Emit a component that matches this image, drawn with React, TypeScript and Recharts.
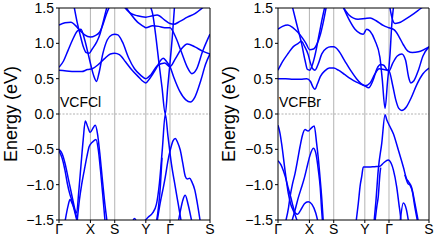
import { LineChart, Line, XAxis, YAxis, ReferenceLine } from 'recharts'

// k-path positions (fraction of path length) and labels
const kTicks = [0, 0.208, 0.369, 0.575, 0.735, 1]
const kLabels = ['Γ', 'X', 'S', 'Y', 'Γ', 'S']
const eTicks = [-1.5, -1.0, -0.5, 0.0, 0.5, 1.0, 1.5]

type Pt = [number, number]

// ---- VCFCl bands [k, E] ----
const clC1: Pt[] = [[0, 0.62], [0.05, 0.61], [0.1, 0.6], [0.15, 0.6], [0.19, 0.63], [0.22, 0.64], [0.26, 0.7], [0.3, 0.78], [0.34, 0.85], [0.369, 0.86], [0.4, 0.84], [0.44, 0.74], [0.48, 0.63], [0.52, 0.54], [0.575, 0.44], [0.6, 0.5], [0.64, 0.63], [0.67, 0.75], [0.69, 0.79], [0.71, 0.75], [0.735, 0.67], [0.76, 0.52], [0.8, 0.32], [0.84, 0.2], [0.87, 0.17], [0.9, 0.24], [0.94, 0.48], [0.97, 0.7], [1, 0.85]]
const clC2: Pt[] = [[0, 0.66], [0.03, 0.75], [0.06, 0.9], [0.09, 1.05], [0.12, 1.17], [0.145, 1.2], [0.17, 1.05], [0.19, 0.88], [0.21, 0.7], [0.23, 0.54], [0.248, 0.46], [0.265, 0.58], [0.29, 0.85], [0.32, 1.05], [0.35, 1.12], [0.369, 1.13], [0.39, 1.12], [0.42, 1.02], [0.46, 0.8], [0.5, 0.64], [0.54, 0.55], [0.575, 0.5], [0.61, 0.56], [0.65, 0.68], [0.7, 0.72], [0.735, 0.67], [0.77, 0.78], [0.81, 0.92], [0.85, 0.99], [0.9, 0.95], [0.95, 0.89], [1, 0.85]]
const clC3: Pt[] = [[0, 1.26], [0.04, 1.29], [0.08, 1.3], [0.11, 1.25], [0.14, 1.18], [0.17, 1.12], [0.208, 1.09], [0.24, 1.11], [0.27, 1.16], [0.29, 1.26], [0.315, 1.42], [0.335, 1.52]]
const clC4: Pt[] = [[0.1, 1.52], [0.12, 1.3], [0.14, 1.12], [0.16, 0.96], [0.18, 0.87], [0.2, 0.86], [0.22, 0.92], [0.25, 1.02], [0.27, 1.12], [0.29, 1.28], [0.318, 1.52]]
const clU1: Pt[] = [[0.43, 1.52], [0.47, 1.43], [0.52, 1.39], [0.575, 1.37], [0.62, 1.39], [0.65, 1.4], [0.7, 1.33], [0.735, 1.28], [0.76, 1.27], [0.8, 1.31], [0.85, 1.37], [0.9, 1.42], [0.96, 1.52]]
const clU2: Pt[] = [[0.44, 1.52], [0.48, 1.4], [0.52, 1.3], [0.56, 1.24], [0.575, 1.22], [0.62, 1.25], [0.66, 1.24], [0.7, 1.22], [0.735, 1.22], [0.77, 1.1], [0.81, 0.88], [0.85, 0.66], [0.88, 0.57], [0.91, 0.63], [0.95, 0.88], [1, 1.13]]
const clV: Pt[] = [[0.605, 1.52], [0.62, 1.42], [0.64, 1.12], [0.66, 0.76], [0.682, 0.38], [0.704, 0.0], [0.72, 0.38], [0.735, 0.72], [0.75, 1.08], [0.765, 1.52]]
const clVb1: Pt[] = [[0.04, -1.52], [0.06, -1.3], [0.073, -1.21], [0.09, -1.28], [0.117, -1.4], [0.13, -1.12], [0.145, -0.74], [0.16, -0.37], [0.174, -0.1], [0.19, -0.18], [0.207, -0.26], [0.225, -0.2], [0.24, -0.16], [0.255, -0.28], [0.27, -0.55], [0.285, -0.88], [0.3, -1.2], [0.318, -1.52]]
const clVb2: Pt[] = [[0.12, -1.52], [0.135, -1.22], [0.15, -1.0], [0.168, -0.79], [0.185, -0.6], [0.2, -0.46], [0.22, -0.4], [0.245, -0.36], [0.26, -0.5], [0.275, -0.8], [0.29, -1.15], [0.305, -1.52]]
const clVb3: Pt[] = [[0, -0.5], [0.02, -0.56], [0.04, -0.7], [0.06, -0.9], [0.08, -1.1], [0.1, -1.3], [0.115, -1.45], [0.125, -1.52]]
const clVb4: Pt[] = [[0, -0.52], [0.02, -0.62], [0.04, -0.8], [0.055, -0.98], [0.07, -1.12], [0.085, -1.22], [0.1, -1.35], [0.12, -1.52]]
const clVb5: Pt[] = [[0.485, -1.53], [0.5, -1.48], [0.515, -1.53]]
const clVb6: Pt[] = [[0.56, -1.53], [0.59, -1.46], [0.62, -1.4], [0.645, -1.28], [0.665, -0.98], [0.685, -0.48], [0.704, 0.0], [0.722, -0.32], [0.744, -0.7], [0.77, -1.03], [0.79, -1.28], [0.81, -1.53]]
const clVb7: Pt[] = [[0.645, -1.53], [0.66, -1.3], [0.672, -1.0], [0.682, -0.62]]
const clVb8: Pt[] = [[0.649, -1.53], [0.67, -1.26], [0.69, -1.05], [0.704, -0.89], [0.72, -0.68], [0.737, -0.51], [0.755, -0.38], [0.77, -0.345], [0.785, -0.4], [0.803, -0.51], [0.82, -0.7], [0.836, -0.88], [0.85, -0.92], [0.865, -0.91], [0.88, -0.96], [0.9, -1.08], [0.915, -1.25], [0.936, -1.53]]
const clVb9: Pt[] = [[0.79, -1.53], [0.805, -1.36], [0.82, -1.22], [0.836, -1.15], [0.855, -1.28], [0.88, -1.53]]

// ---- VCFBr bands [k, E] ----
const brC1: Pt[] = [[0, 0.5], [0.05, 0.5], [0.1, 0.49], [0.15, 0.49], [0.19, 0.5], [0.215, 0.46], [0.232, 0.38], [0.245, 0.35], [0.26, 0.42], [0.28, 0.53], [0.31, 0.61], [0.34, 0.65], [0.369, 0.65], [0.4, 0.62], [0.44, 0.56], [0.48, 0.5], [0.52, 0.45], [0.575, 0.4], [0.6, 0.37], [0.63, 0.48], [0.655, 0.64], [0.68, 0.7], [0.7, 0.69], [0.72, 0.63], [0.735, 0.61], [0.76, 0.72], [0.79, 0.82], [0.82, 0.85], [0.845, 0.76], [0.865, 0.52], [0.88, 0.44], [0.9, 0.47], [0.93, 0.62], [0.96, 0.82], [1, 0.95]]
const brC2: Pt[] = [[0, 0.62], [0.03, 0.74], [0.068, 0.86], [0.1, 0.95], [0.134, 1.0], [0.155, 1.03], [0.175, 0.96], [0.2, 0.84], [0.215, 0.72], [0.23, 0.64], [0.245, 0.62], [0.265, 0.7], [0.29, 0.85], [0.32, 0.93], [0.35, 0.95], [0.369, 0.95], [0.4, 0.9], [0.44, 0.76], [0.48, 0.62], [0.52, 0.5], [0.55, 0.43], [0.575, 0.4], [0.61, 0.44], [0.64, 0.56], [0.67, 0.64], [0.7, 0.63], [0.735, 0.61], [0.76, 0.4], [0.78, 0.2], [0.8, 0.08], [0.82, 0.05], [0.85, 0.1], [0.88, 0.22], [0.92, 0.42], [0.96, 0.57], [1, 0.65]]
const brC3: Pt[] = [[0, 1.2], [0.03, 1.24], [0.065, 1.26], [0.1, 1.22], [0.13, 1.16], [0.16, 1.08], [0.185, 1.0], [0.21, 0.91], [0.235, 0.92], [0.26, 1.0], [0.28, 1.12], [0.3, 1.3], [0.32, 1.52]]
const brC4: Pt[] = [[0.095, 1.52], [0.124, 1.27], [0.157, 0.99], [0.179, 0.76], [0.195, 0.63], [0.21, 0.62], [0.225, 0.68], [0.25, 0.88], [0.27, 1.1], [0.29, 1.32], [0.31, 1.52]]
const brU1: Pt[] = [[0.43, 1.52], [0.47, 1.4], [0.53, 1.34], [0.575, 1.35], [0.61, 1.36], [0.65, 1.32], [0.7, 1.25], [0.735, 1.22], [0.77, 1.19], [0.8, 1.1], [0.83, 0.98], [0.86, 0.89], [0.89, 0.87], [0.93, 0.88], [1, 0.95]]
const brU2: Pt[] = [[0.43, 1.52], [0.47, 1.34], [0.51, 1.2], [0.545, 1.14], [0.565, 1.13], [0.587, 1.2], [0.61, 1.17], [0.642, 1.04], [0.675, 0.8], [0.69, 0.5], [0.709, 0.08], [0.725, 0.45], [0.742, 0.85], [0.753, 1.25], [0.765, 1.52]]
const brU3: Pt[] = [[0.74, 1.52], [0.755, 1.36], [0.775, 1.28], [0.8, 1.29], [0.85, 1.35], [0.9, 1.42], [0.95, 1.5], [0.97, 1.53]]
const brVb1: Pt[] = [[0.05, -1.53], [0.07, -1.32], [0.08, -1.17], [0.095, -1.0], [0.113, -0.84], [0.13, -0.65], [0.146, -0.46], [0.162, -0.3], [0.179, -0.22], [0.2, -0.24], [0.22, -0.2], [0.24, -0.17], [0.256, -0.42], [0.268, -0.65], [0.278, -0.89], [0.29, -1.2], [0.3, -1.53]]
const brVb2: Pt[] = [[0.09, -1.53], [0.113, -1.36], [0.135, -1.18], [0.157, -1.03], [0.175, -0.9], [0.19, -0.77], [0.21, -0.6], [0.234, -0.485], [0.25, -0.55], [0.267, -0.79], [0.28, -1.05], [0.289, -1.36], [0.295, -1.53]]
const brVb3: Pt[] = [[0, -0.16], [0.012, -0.26], [0.024, -0.42], [0.046, -0.79], [0.068, -1.12], [0.085, -1.28], [0.1, -1.36], [0.115, -1.44], [0.13, -1.53]]
const brVb4: Pt[] = [[0, -0.66], [0.02, -0.72], [0.035, -0.8], [0.05, -0.9], [0.068, -1.05], [0.085, -1.18], [0.1, -1.31], [0.115, -1.4], [0.13, -1.42], [0.15, -1.36], [0.175, -1.27], [0.2, -1.24], [0.225, -1.28], [0.25, -1.4], [0.265, -1.53]]
const brVb5: Pt[] = [[0.636, -1.53], [0.649, -1.22], [0.664, -0.79], [0.687, -0.415], [0.709, -0.01], [0.72, -0.08], [0.737, -0.16], [0.764, -0.28], [0.797, -0.51], [0.83, -0.75], [0.852, -0.92], [0.865, -0.96], [0.885, -1.04], [0.907, -1.27], [0.93, -1.53]]
const brVb6: Pt[] = [[0.84, -0.86], [0.86, -0.98], [0.875, -1.01], [0.89, -1.1], [0.905, -1.3], [0.925, -1.53]]
const brVb7: Pt[] = [[0.517, -1.53], [0.532, -1.26], [0.545, -1.0], [0.554, -0.89], [0.565, -0.75], [0.6, -0.75], [0.64, -0.745], [0.675, -0.74], [0.7, -0.69], [0.73, -0.65], [0.75, -0.7], [0.764, -0.79], [0.786, -1.03], [0.803, -1.31], [0.81, -1.42], [0.815, -1.53]]
const brVb8: Pt[] = [[0.642, -1.53], [0.655, -1.3], [0.664, -1.17], [0.675, -0.85], [0.68, -0.76]]
const brVb9: Pt[] = [[0.81, -1.5], [0.83, -1.26], [0.85, -1.35], [0.865, -1.53]]

const clBands = [clC1, clC2, clC3, clC4, clU1, clU2, clV, clVb1, clVb2, clVb3, clVb4, clVb5, clVb6, clVb7, clVb8, clVb9]
const brBands = [brC1, brC2, brC3, brC4, brU1, brU2, brU3, brVb1, brVb2, brVb3, brVb4, brVb5, brVb6, brVb7, brVb8, brVb9]

const FONT = 'Liberation Sans, Arial, sans-serif'
const BLUE = '#0000ff'

function fmtE(v: number) {
  return v.toFixed(1).replace('-', '\u2212')
}

function Panel({ bands, name, axisWidth, right }: { bands: Pt[][]; name: string; axisWidth: number; right: number }) {
  return (
    <div style={{ position: 'relative', width: 218, height: 241 }}>
      <LineChart width={218} height={241} margin={{ top: 8, right, bottom: 0, left: 0 }}>
        <XAxis
          type="number"
          dataKey="k"
          domain={[0, 1]}
          ticks={kTicks}
          tickFormatter={(_v: number, i: number) => kLabels[i]}
          allowDataOverflow
          axisLine={false}
          tickSize={3}
          tickMargin={1}
          height={21}
          stroke="#000"
          tick={{ fontSize: 14, fill: '#000', fontFamily: FONT }}
        />
        <YAxis
          type="number"
          domain={[-1.5, 1.5]}
          ticks={eTicks}
          tickFormatter={fmtE}
          allowDataOverflow
          axisLine={false}
          tickSize={3}
          tickMargin={2}
          width={axisWidth}
          stroke="#000"
          tick={{ fontSize: 14, fill: '#000', fontFamily: FONT }}
          label={{
            content: (p: any) => {
              const vb = p.viewBox || { x: 0, y: 8, height: 212 }
              const cx = vb.x + 11
              const cy = vb.y + vb.height / 2
              return (
                <text x={cx} y={cy} transform={`rotate(-90 ${cx} ${cy})`} textAnchor="middle" dominantBaseline="central" fontSize={18} fontFamily={FONT} fill="#000">
                  Energy (eV)
                </text>
              )
            },
          }}
        />
        {kTicks.slice(1, -1).map((k, i) => (
          <ReferenceLine key={'g' + i} x={k} stroke="#a0a0a0" strokeWidth={0.8} />
        ))}
        <ReferenceLine y={0} stroke="#a0a0a0" strokeWidth={0.8} strokeDasharray="2 1.5" />
        {bands.map((b, i) => (
          <Line
            key={i}
            data={b.map(([k, e]) => ({ k, e }))}
            dataKey="e"
            type="monotone"
            stroke={BLUE}
            strokeWidth={1.5}
            dot={false}
            activeDot={false}
            isAnimationActive={false}
          />
        ))}
        <ReferenceLine x={0} stroke="#000" strokeWidth={1} />
        <ReferenceLine x={1} stroke="#000" strokeWidth={1} />
        <ReferenceLine y={1.5} stroke="#000" strokeWidth={1} />
        <ReferenceLine y={-1.5} stroke="#000" strokeWidth={1} />
      </LineChart>
      <div style={{ position: 'absolute', left: axisWidth + 1, top: 95, fontSize: 14, lineHeight: '14px', fontFamily: FONT, color: '#000' }}>
        {name}
      </div>
    </div>
  )
}

export default function App() {
  return (
    <div style={{ position: 'fixed', left: 0, top: 0, width: 436, height: 241, background: '#fff', display: 'flex' }}>
      <Panel bands={clBands} name="VCFCl" axisWidth={59} right={8} />
      <Panel bands={brBands} name="VCFBr" axisWidth={60} right={7} />
    </div>
  )
}
